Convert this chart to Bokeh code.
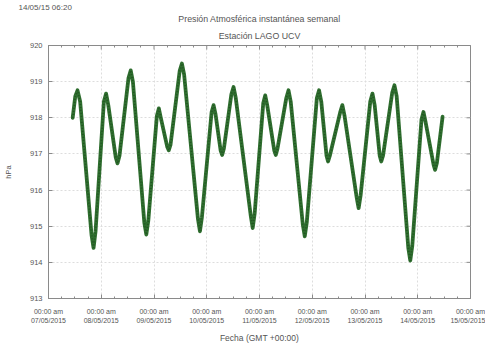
import math
from bokeh.plotting import figure
from bokeh.models import FixedTicker, LinearAxis, Title, Range1d
from bokeh.embed import file_html
from bokeh.resources import INLINE

# hours since 07/05/2015 00:00 (GMT) and pressure in hPa
hours = [11.0, 12.2, 13.2, 14.4, 19.6, 20.5, 21.4, 25.2, 26.2, 27.2, 30.6, 31.4, 32.3,
         36.4, 37.4, 38.4, 43.6, 44.5, 45.4, 49.3, 50.2, 51.1, 54.0, 54.7, 55.5,
         59.7, 60.7, 61.7, 68.0, 68.9, 69.8, 74.2, 75.1, 76.0, 78.3, 79.0, 79.8,
         83.2, 84.2, 85.2, 92.0, 92.9, 93.8, 97.7, 98.6, 99.5, 102.7, 103.4, 104.2,
         108.2, 109.2, 110.2, 115.7, 116.6, 117.5, 122.1, 123.1, 124.1, 126.5, 127.2, 128.0,
         132.7, 133.7, 134.7, 140.2, 141.1, 142.0, 146.4, 147.4, 148.4, 150.7, 151.4, 152.2,
         156.4, 157.4, 158.4, 163.7, 164.6, 165.5, 169.7, 170.6, 171.5, 175.2, 175.9, 176.7,
         179.3]
pressure = [918.00, 918.60, 918.76, 918.45, 914.75, 914.40, 914.85, 918.45, 918.67, 918.35,
            916.90, 916.74, 916.95, 919.10, 919.31, 919.00, 915.10, 914.77, 915.15,
            918.05, 918.26, 918.00, 917.20, 917.10, 917.25, 919.30, 919.50, 919.20,
            915.20, 914.86, 915.25, 918.15, 918.35, 918.10, 917.10, 916.97, 917.15,
            918.65, 918.85, 918.55, 915.30, 914.95, 915.35, 918.40, 918.62, 918.35,
            917.10, 916.97, 917.15, 918.55, 918.76, 918.45, 915.05, 914.72, 915.10,
            918.55, 918.76, 918.45, 916.95, 916.79, 916.95, 918.15, 918.35, 918.05,
            915.80, 915.50, 915.85, 918.45, 918.67, 918.35, 916.95, 916.79, 916.95,
            918.70, 918.90, 918.60, 914.40, 914.05, 914.45, 917.95, 918.16, 917.90,
            916.70, 916.56, 916.75, 918.03]

day_ticks = [0, 24, 48, 72, 96, 120, 144, 168, 192]
time_labels = ["00:00 am"] * 9
date_labels = ["07/05/2015", "08/05/2015", "09/05/2015", "10/05/2015", "11/05/2015",
               "12/05/2015", "13/05/2015", "14/05/2015", "15/05/2015"]
minor_hours = [h for h in range(0, 193, 6) if h % 24 != 0]
y_ticks = [913, 914, 915, 916, 917, 918, 919, 920]

title_1 = "Presión Atmosférica instantánea semanal"
title_2 = "Estación LAGO UCV"
stamp = "14/05/15 06:20"

FONT = "Liberation Sans"
TXT = "#555555"
AX = "#8a8a8a"

p = figure(width=485, height=345, output_backend="svg", toolbar_location=None,
           x_range=Range1d(day_ticks[0], day_ticks[-1]),
           y_range=Range1d(y_ticks[0], y_ticks[-1]),
           min_border_left=46, min_border_right=15, min_border_top=0, min_border_bottom=46,
           background_fill_color="white", border_fill_color="white")
p.outline_line_color = AX
p.outline_line_width = 1

xt = FixedTicker(ticks=day_ticks, minor_ticks=minor_hours)
yt = FixedTicker(ticks=y_ticks, minor_ticks=[])

# first x axis: time labels
xa = p.xaxis[0]
xa.ticker = xt
xa.major_label_overrides = {d: lab for d, lab in zip(day_ticks, time_labels)}
# second x axis: date labels + axis title
xb = LinearAxis(ticker=FixedTicker(ticks=day_ticks, minor_ticks=[]),
                major_label_overrides={d: lab for d, lab in zip(day_ticks, date_labels)},
                axis_line_color=None, major_tick_line_color=None, minor_tick_line_color=None,
                major_tick_in=0, major_tick_out=0, major_label_standoff=-1)
p.add_layout(xb, "below")

ya = p.yaxis[0]
ya.ticker = yt
ya.major_label_overrides = {v: str(v) for v in y_ticks}

for ax in (xa, xb, ya):
    ax.major_label_text_font = FONT
    ax.major_label_text_font_size = "7px"
    ax.major_label_text_color = TXT
    ax.axis_label_text_font = FONT
    ax.axis_label_text_font_size = "8.5px"
    ax.axis_label_text_font_style = "normal"
    ax.axis_label_text_color = TXT
for ax in (xa, ya):
    ax.axis_line_color = AX
    ax.major_tick_line_color = AX
    ax.minor_tick_line_color = AX
    ax.major_tick_in = 4
    ax.major_tick_out = 0
    ax.minor_tick_in = 2
    ax.minor_tick_out = 0

ya.major_label_text_font_size = "7.5px"
ya.axis_label_text_font_size = "7.5px"
xa.major_label_standoff = 9
xb.axis_label = "Fecha (GMT +00:00)"
xb.axis_label_standoff = 6
ya.axis_label = "hPa"
ya.major_label_standoff = 6
ya.axis_label_standoff = 14

# top axis: only 6-hourly ticks (no labels)
top_ax = LinearAxis(ticker=FixedTicker(ticks=[], minor_ticks=minor_hours),
                    axis_line_color=AX, minor_tick_line_color=AX, major_tick_line_color=AX,
                    minor_tick_in=2, minor_tick_out=0, major_tick_in=4, major_tick_out=0,
                    major_label_standoff=0)
p.add_layout(top_ax, "above")

p.xgrid.ticker = xt
p.ygrid.ticker = yt
p.xgrid.grid_line_color = "#dddddd"
p.ygrid.grid_line_color = "#dddddd"
p.xgrid.grid_line_dash = "2 2"
p.ygrid.grid_line_dash = "2 2"

# day ticks on the top edge and hPa ticks on the right edge (clipped to the frame, pointing inward)
p.scatter(x=day_ticks, y=[y_ticks[-1]] * len(day_ticks), marker="dash",
          angle=math.pi / 2, size=8, line_color=AX, line_width=1)
p.scatter(x=[day_ticks[-1]] * len(y_ticks), y=y_ticks, marker="dash",
          size=8, line_color=AX, line_width=1)

p.line(hours, pressure, line_color="#2f6e2f", line_width=3.8, line_join="round", line_cap="round")
p.line(hours, pressure, line_color="#1c4a1c", line_width=1.8, line_dash="1 2", line_alpha=0.7)

p.add_layout(Title(text=title_2, align="center", text_font=FONT, text_font_size="8.8px",
                   text_font_style="normal", text_color=TXT, standoff=10), "above")
p.add_layout(Title(text=title_1, align="center", text_font=FONT, text_font_size="8.8px",
                   text_font_style="normal", text_color=TXT, standoff=0), "above")
p.add_layout(Title(text=stamp, align="left", text_font=FONT, text_font_size="8px",
                   text_font_style="normal", text_color=TXT, offset=-30, standoff=0), "above")

open("out.html", "w").write(file_html(p, INLINE))
